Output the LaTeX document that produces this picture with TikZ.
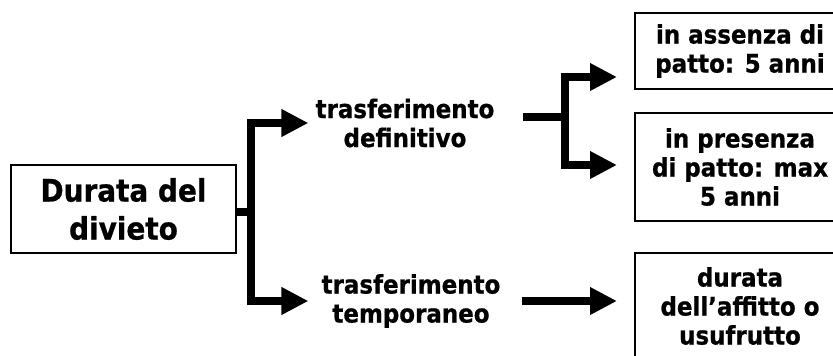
\documentclass[tikz,border=0pt]{standalone}
\usepackage{fontspec}
\setmainfont{DejaVu Sans}[FakeStretch=0.9, FakeBold=0.8]
\usetikzlibrary{arrows.meta}

\begin{document}
\begin{tikzpicture}[x=1pt, y=-1pt,
titlenode/.style={rectangle, draw, line width=2pt, minimum width=225pt, minimum height=88pt, align=center, font=\bfseries\fontsize{31}{38}\selectfont},
labelnode/.style={inner xsep=7pt, align=center, font=\bfseries\fontsize{25.5}{29}\selectfont},
boxnode/.style={rectangle, draw, line width=2pt, minimum width=210pt, align=center, font=\bfseries\fontsize{25.5}{29}\selectfont},
thickline/.style={line width=8pt, line join=miter},
thickarrow/.style={thickline, -{Triangle[length=27pt, width=26pt]}},
]
\useasboundingbox (0,0) rectangle (833,356);
\clip (0,0) rectangle (833,356);

%Nodes
\node[titlenode] (divieto)  at (123.5,209) {Durata del\\divieto};
\node[labelnode] (def)      at (405,123) {trasferimento\\definitivo};
\node[labelnode, inner xsep=13pt] (temp) at (411,301) {trasferimento\\temporaneo};
\node[boxnode, minimum height=76pt]  (assenza)  at (740,51)  {in assenza di\\patto: 5 anni};
\node[boxnode, minimum height=108pt] (presenza) at (740,167) {in presenza\\di patto: max\\5 anni};
\node[boxnode, minimum height=106pt] (affitto)  at (740,306) {durata\\dell’affitto o\\usufrutto};
\coordinate (fork1) at (251,212);
\coordinate (stem2) at (523,117);
\coordinate (fork2) at (565,117);

%Lines
\draw[thickline] (divieto.east |- fork1) -- (fork1);
\draw[thickarrow] (fork1) |- (def.west);
\draw[thickarrow] (fork1) |- (temp.west);
\draw[thickline] (stem2) -- (fork2);
\draw[thickarrow, shorten >=17pt] (fork2) |- ([yshift=-26pt]assenza.west);
\draw[thickarrow, shorten >=17pt] (fork2) |- ([yshift=2pt]presenza.west);
\draw[thickarrow, shorten <=8pt, shorten >=17pt] (temp.east) -- (temp.east -| affitto.west);
\end{tikzpicture}
\end{document}
